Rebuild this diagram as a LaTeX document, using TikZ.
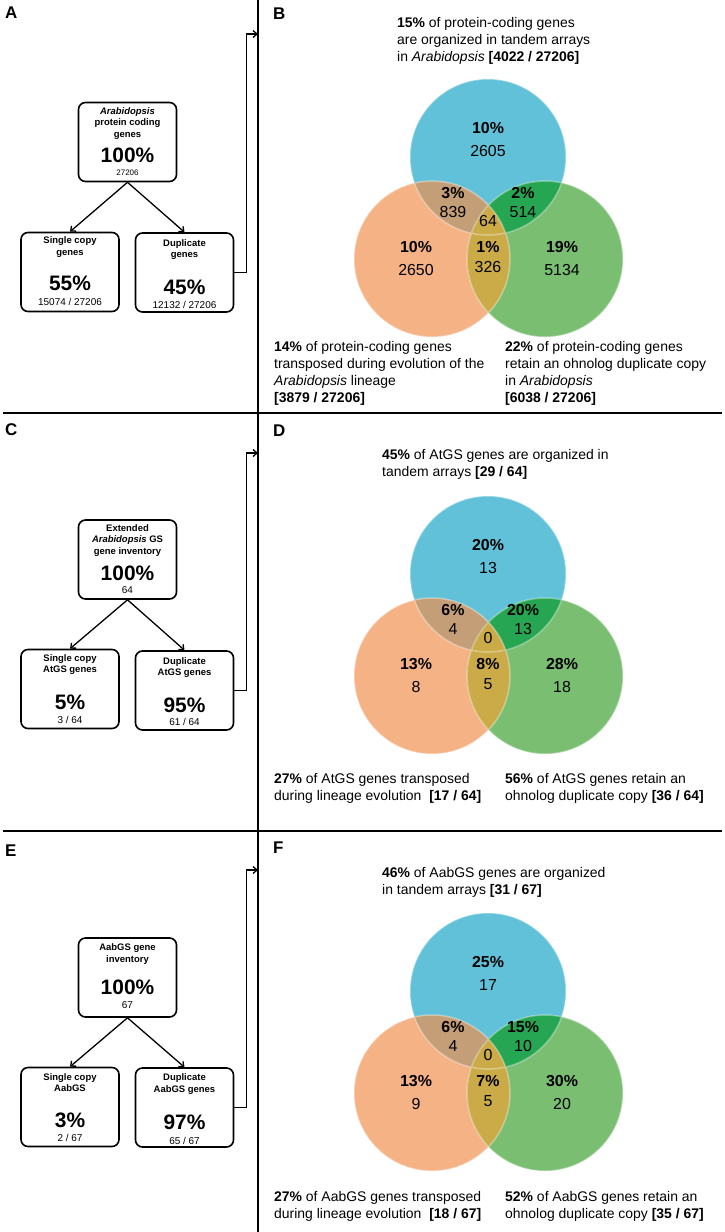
\documentclass[tikz,border=0pt]{standalone}
\usepackage{fontspec}
\setmainfont{Liberation Sans}
\usetikzlibrary{positioning,arrows.meta}

\definecolor{vennblue}{RGB}{96,193,216}
\definecolor{vennorange}{RGB}{245,178,133}
\definecolor{venngreen}{RGB}{122,190,114}
\definecolor{vennbo}{RGB}{196,158,118}
\definecolor{vennbg}{RGB}{38,166,82}
\definecolor{vennog}{RGB}{203,170,72}

\tikzset{
  panel/.style={line width=1.2bp},
  genebox/.style={draw, line width=1.6bp, rounded corners=7bp, minimum width=98bp, minimum height=79bp},
  boxttl/.style={font=\fontsize{9.5}{11.5}\selectfont\bfseries, align=center, inner sep=0},
  boxpct/.style={font=\fontsize{21}{21}\selectfont\bfseries, inner sep=0},
  boxcnt/.style={font=\fontsize{10}{10}\selectfont, inner sep=0},
  vpct/.style={font=\fontsize{16}{16}\selectfont\bfseries, inner sep=0},
  vcnt/.style={font=\fontsize{16}{16}\selectfont, inner sep=0},
  vcap/.style={font=\fontsize{14}{17}\selectfont, align=left, anchor=north west, inner sep=0},
  letter/.style={font=\fontsize{17}{17}\selectfont\bfseries, anchor=west, inner sep=0},
}

% three circles, overlaps filled by clipping
\newcommand{\venncircles}{%
  \fill[vennblue] (488,157) circle[radius=78];
  \fill[vennorange] (432,259) circle[radius=78];
  \fill[venngreen] (545,259) circle[radius=78];
  \begin{scope}
    \clip (488,157) circle[radius=78];
    \fill[vennbo] (432,259) circle[radius=78];
    \fill[vennbg] (545,259) circle[radius=78];
  \end{scope}
  \begin{scope}
    \clip (432,259) circle[radius=78];
    \fill[vennog] (545,259) circle[radius=78];
  \end{scope}
  \draw[white, opacity=.35, line width=1.5bp] (488,157) circle[radius=78] (432,259) circle[radius=78] (545,259) circle[radius=78];
}

\begin{document}
\begin{tikzpicture}[x=1bp, y=-1bp, >={Straight Barb[length=4bp,width=7bp]}]
\useasboundingbox (0,0) rectangle (725,1232);

% panel rules
\draw[panel] (258,0) -- (258,1232);
\draw[panel] (3,413) -- (722,413);
\draw[panel] (3,831) -- (722,831);

% letters
\node[letter] (labA) at (5,13) {A};
\node[letter] (labB) at (273,14) {B};
\node[letter] (labC) at (5,430) {C};
\node[letter] (labD) at (273,431) {D};
\node[letter] (labE) at (5,851) {E};
\node[letter] (labF) at (273,848) {F};

% tree A
\node[genebox] (a0) at (127.5,142) {};
\node[boxttl] (a0t) at (127.5,123.5) {\textit{Arabidopsis}\\protein coding\\genes};
\node[boxpct] (a0p) at (127.5,155) {100\%};
\node[boxcnt, font=\fontsize{8}{8}\selectfont] (a0c) at (127.5,173) {27206};
\node[genebox] (a1) at (70,272) {};
\node[boxttl] (a1t) at (70,247) {Single copy\\genes};
\node[boxpct] (a1p) at (70,283) {55\%};
\node[boxcnt] (a1c) at (70,302) {15074 / 27206};
\node[genebox] (a2) at (184.5,272.5) {};
\node[boxttl] (a2t) at (184.5,249.5) {Duplicate\\genes};
\node[boxpct] (a2p) at (184.5,287) {45\%};
\node[boxcnt] (a2c) at (184.5,305) {12132 / 27206};
\draw[->, line width=1.3bp] (a0.south) -- (a1.north);
\draw[->, line width=1.3bp] (a0.south) -- (a2.north);
\coordinate (aend) at (258,34);
\draw[->, line width=1.3bp] (a2.east) -- ++(12,0) |- (aend);

% tree C
\node[genebox] (c0) at (127.5,559.5) {};
\node[boxttl] (c0t) at (127.5,540.5) {Extended\\\textit{Arabidopsis} GS\\gene inventory};
\node[boxpct] (c0p) at (127.5,573) {100\%};
\node[boxcnt] (c0c) at (127.5,590) {64};
\node[genebox] (c1) at (70,689) {};
\node[boxttl] (c1t) at (70,664.5) {Single copy\\AtGS genes};
\node[boxpct] (c1p) at (70,702) {5\%};
\node[boxcnt] (c1c) at (70,720) {3 / 64};
\node[genebox] (c2) at (184.5,690.5) {};
\node[boxttl] (c2t) at (184.5,667.5) {Duplicate\\AtGS genes};
\node[boxpct] (c2p) at (184.5,705) {95\%};
\node[boxcnt] (c2c) at (184.5,722) {61 / 64};
\draw[->, line width=1.3bp] (c0.south) -- (c1.north);
\draw[->, line width=1.3bp] (c0.south) -- (c2.north);
\coordinate (cend) at (258,453);
\draw[->, line width=1.3bp] (c2.east) -- ++(12,0) |- (cend);

% tree E
\node[genebox] (e0) at (127.5,977.5) {};
\node[boxttl] (e0t) at (127.5,954) {AabGS gene\\inventory};
\node[boxpct] (e0p) at (127.5,987) {100\%};
\node[boxcnt] (e0c) at (127.5,1005) {67};
\node[genebox] (e1) at (70,1107) {};
\node[boxttl] (e1t) at (70,1082.5) {Single copy\\AabGS};
\node[boxpct] (e1p) at (70,1120) {3\%};
\node[boxcnt] (e1c) at (70,1138) {2 / 67};
\node[genebox] (e2) at (184.5,1107.5) {};
\node[boxttl] (e2t) at (184.5,1084) {Duplicate\\AabGS genes};
\node[boxpct] (e2p) at (184.5,1122) {97\%};
\node[boxcnt] (e2c) at (184.5,1141) {65 / 67};
\draw[->, line width=1.3bp] (e0.south) -- (e1.north);
\draw[->, line width=1.3bp] (e0.south) -- (e2.north);
\coordinate (eend) at (258,870);
\draw[->, line width=1.3bp] (e2.east) -- ++(12,0) |- (eend);

% venn B
\venncircles
\foreach \x/\y/\t [count=\i] in {488/128/10\%,453/193/3\%,523/193/2\%,416/247/10\%,488/247/1\%,562/247/19\%}
  \node[vpct] (bp\i) at (\x,\y) {\t};
\foreach \x/\y/\t [count=\i] in {488/151/2605,453/212/839,523/212/514,488/221/64,416/270/2650,488/267/326,562/270/5134}
  \node[vcnt] (bn\i) at (\x,\y) {\t};
\node[vcap] (bcapT) at (397,17) {\textbf{15\%} of protein-coding genes\\are organized in tandem arrays\\in \textit{Arabidopsis} \textbf{[4022 / 27206]}};
\node[vcap] (bcapL) at (274,341) {\textbf{14\%} of protein-coding genes\\transposed during evolution of the\\\textit{Arabidopsis} lineage\\\textbf{[3879 / 27206]}};
\node[vcap] (bcapR) at (505,341) {\textbf{22\%} of protein-coding genes\\retain an ohnolog duplicate copy\\in \textit{Arabidopsis}\\\textbf{[6038 / 27206]}};

% venn D
\begin{scope}[shift={(0,417)}]
\venncircles
\foreach \x/\y/\t [count=\i] in {488/128/20\%,453/193/6\%,523/193/20\%,416/247/13\%,488/247/8\%,562/247/28\%}
  \node[vpct] (dp\i) at (\x,\y) {\t};
\foreach \x/\y/\t [count=\i] in {488/151/13,453/212/4,523/212/13,488/221/0,416/270/8,488/267/5,562/270/18}
  \node[vcnt] (dn\i) at (\x,\y) {\t};
\end{scope}
\node[vcap] (dcapT) at (382,449) {\textbf{45\%} of AtGS genes are organized in\\tandem arrays \textbf{[29 / 64]}};
\node[vcap] (dcapL) at (274,773) {\textbf{27\%} of AtGS genes transposed\\during lineage evolution~~\textbf{[17 / 64]}};
\node[vcap] (dcapR) at (505,773) {\textbf{56\%} of AtGS genes retain an\\ohnolog duplicate copy \textbf{[36 / 64]}};

% venn F
\begin{scope}[shift={(0,834)}]
\venncircles
\foreach \x/\y/\t [count=\i] in {488/128/25\%,453/193/6\%,523/193/15\%,416/247/13\%,488/247/7\%,562/247/30\%}
  \node[vpct] (fp\i) at (\x,\y) {\t};
\foreach \x/\y/\t [count=\i] in {488/151/17,453/212/4,523/212/10,488/221/0,416/270/9,488/267/5,562/270/20}
  \node[vcnt] (fn\i) at (\x,\y) {\t};
\end{scope}
\node[vcap] (fcapT) at (382,867) {\textbf{46\%} of AabGS genes are organized\\in tandem arrays \textbf{[31 / 67]}};
\node[vcap] (fcapL) at (274,1191) {\textbf{27\%} of AabGS genes transposed\\during lineage evolution~~\textbf{[18 / 67]}};
\node[vcap] (fcapR) at (505,1191) {\textbf{52\%} of AabGS genes retain an\\ohnolog duplicate copy \textbf{[35 / 67]}};
\end{tikzpicture}
\end{document}
